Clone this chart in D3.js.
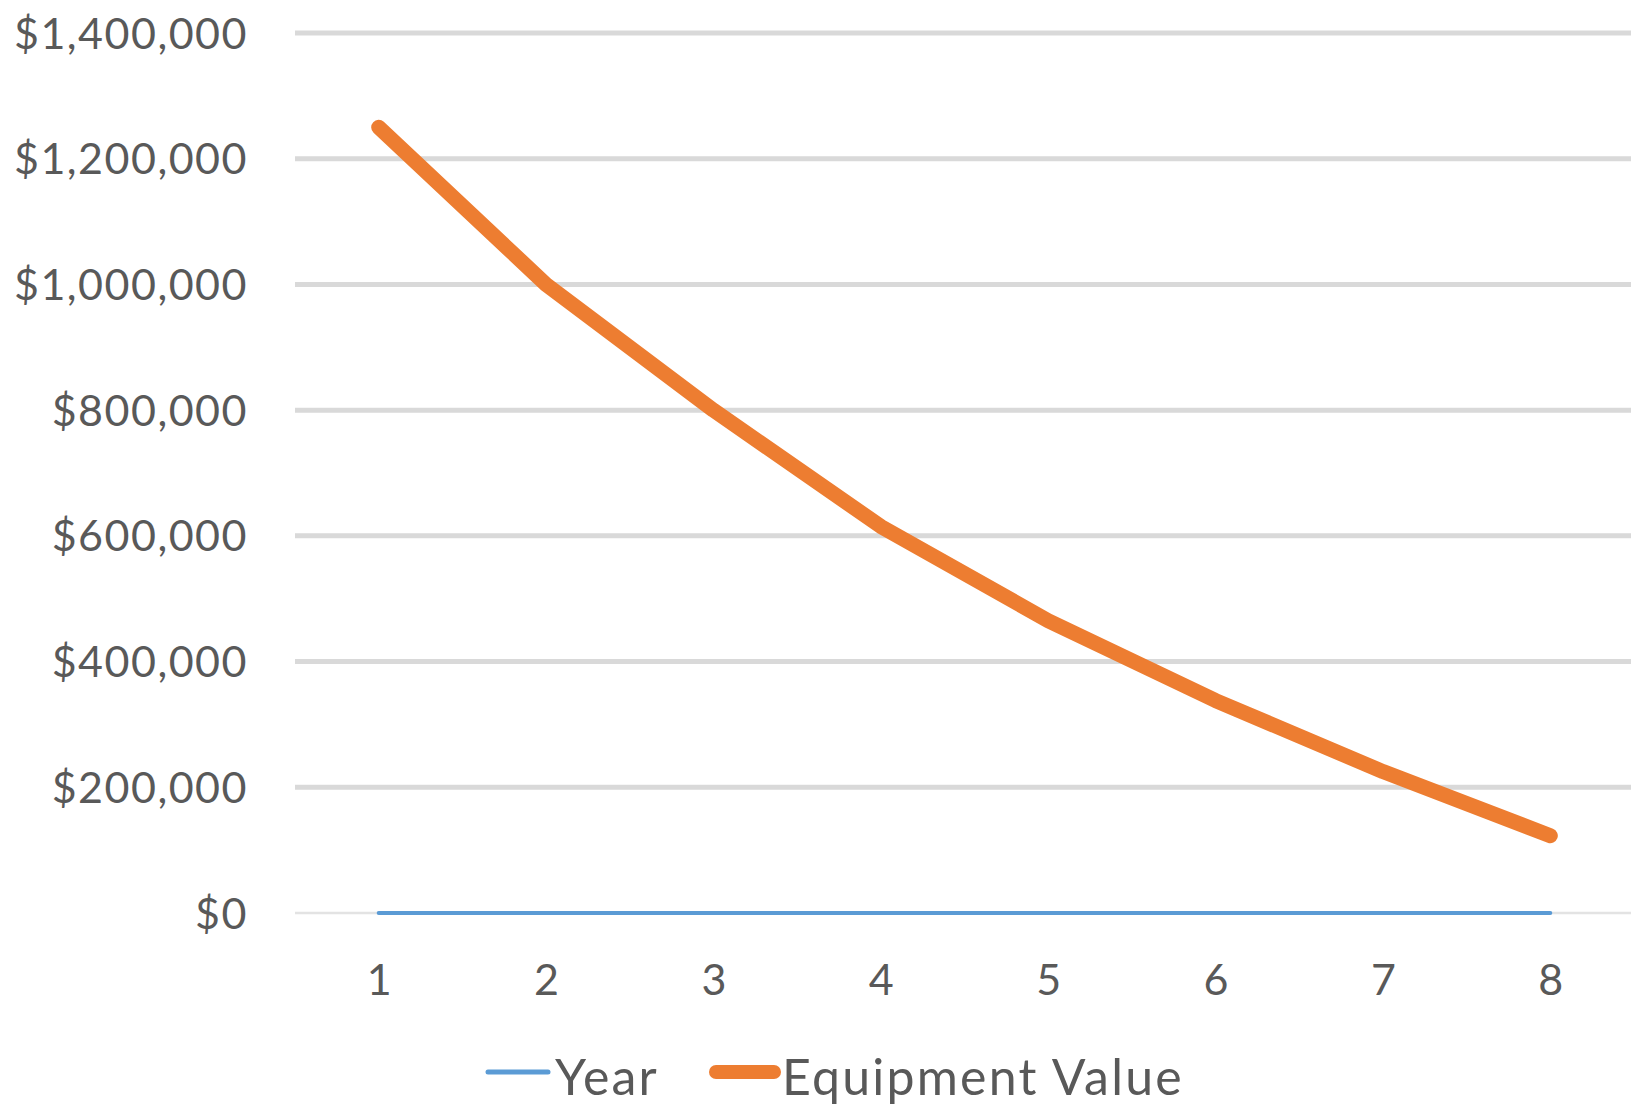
<!DOCTYPE html>
<html>
<head>
<meta charset="utf-8">
<script src="https://cdn.jsdelivr.net/npm/d3@7"></script>
<style>
  html, body { margin: 0; padding: 0; background: #ffffff; }
  svg { display: block; }
  text { font-family: Lato, "Open Sans", sans-serif; fill: #595959; }
</style>
</head>
<body>
<svg id="chart" width="1631" height="1106"></svg>
<script>
// Year index along the category axis
const categories = ["1", "2", "3", "4", "5", "6", "7", "8"];
// "Year" series is plotted on the same value axis as the equipment value
const yearValues = [1, 2, 3, 4, 5, 6, 7, 8];
// Declining equipment value by year
const equipmentValues = [1250000, 1000000, 800000, 615000, 465000, 338000, 225000, 123000];
// Value axis ticks
const yTicks = [0, 200000, 400000, 600000, 800000, 1000000, 1200000, 1400000];
const seriesNames = ["Year", "Equipment Value"];

const svg = d3.select("#chart");
const plot = { left: 295, right: 1634, top: 33, bottom: 913 };

const x = d3.scalePoint()
  .domain(categories)
  .range([plot.left, plot.right])
  .padding(0.5);

const y = d3.scaleLinear()
  .domain([0, 1400000])
  .range([plot.bottom, plot.top]);

const fmt = v => "$" + d3.format(",")(v);

// Horizontal gridlines
svg.append("g")
  .selectAll("line")
  .data(yTicks)
  .join("line")
  .attr("x1", plot.left)
  .attr("x2", 1631)
  .attr("y1", d => y(d))
  .attr("y2", d => y(d))
  .attr("stroke", d => d === 0 ? "#e3e3e3" : "#d9d9d9")
  .attr("stroke-width", d => d === 0 ? 2.5 : 5);

// Value axis labels
const yAxis = d3.axisLeft(y).tickValues(yTicks).tickFormat(fmt).tickSize(0).tickPadding(47);
const gy = svg.append("g").attr("transform", `translate(${plot.left},0)`).call(yAxis);
gy.select(".domain").remove();
gy.selectAll("text")
  .attr("font-size", 43)
  .attr("letter-spacing", 1.5)
  .attr("font-family", "Lato, 'Open Sans', sans-serif")
  .attr("fill", "#595959")
  .attr("dy", "0.35em");

// Category axis labels
const xAxis = d3.axisBottom(x).tickSize(0).tickPadding(67);
const gx = svg.append("g").attr("transform", `translate(0,${plot.bottom})`).call(xAxis);
gx.select(".domain").remove();
gx.selectAll("text")
  .attr("font-size", 43)
  .attr("font-family", "Lato, 'Open Sans', sans-serif")
  .attr("fill", "#595959")
  .attr("dy", "0.35em");

const line = d3.line()
  .x((d, i) => x(categories[i]))
  .y(d => y(d));

// Year series (sits just above the baseline)
svg.append("path")
  .datum(yearValues)
  .attr("d", line)
  .attr("fill", "none")
  .attr("stroke", "#5b9bd5")
  .attr("stroke-width", 4)
  .attr("stroke-linecap", "round");

// Equipment value series
svg.append("path")
  .datum(equipmentValues)
  .attr("d", line)
  .attr("fill", "none")
  .attr("stroke", "#ed7d31")
  .attr("stroke-width", 15)
  .attr("stroke-linecap", "round")
  .attr("stroke-linejoin", "round");

// Legend
const legend = svg.append("g").attr("transform", "translate(0,1077)");
const items = [
  { name: seriesNames[0], color: "#5b9bd5", width: 5, x1: 488, x2: 548, tx: 555 },
  { name: seriesNames[1], color: "#ed7d31", width: 14, x1: 716, x2: 774, tx: 782 }
];
items.forEach(it => {
  legend.append("line")
    .attr("x1", it.x1).attr("x2", it.x2)
    .attr("y1", -5).attr("y2", -5)
    .attr("stroke", it.color)
    .attr("stroke-width", it.width)
    .attr("stroke-linecap", "round");
  legend.append("text")
    .attr("x", it.tx)
    .attr("y", 0)
    .attr("dy", "0.35em")
    .attr("font-size", 50)
    .attr("letter-spacing", 2.2)
    .text(it.name);
});
</script>
</body>
</html>
